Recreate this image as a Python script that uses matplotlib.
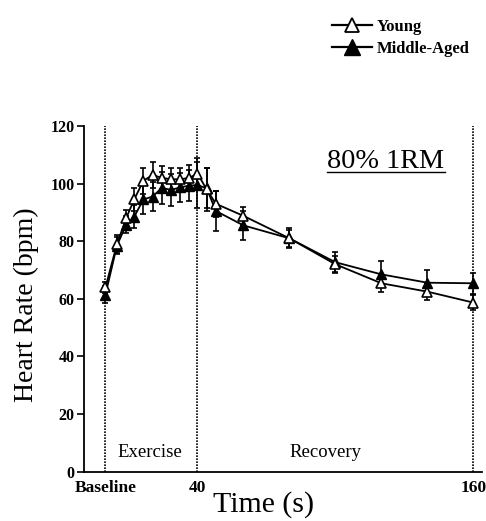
import matplotlib
matplotlib.use("Agg")
import matplotlib.pyplot as plt
from matplotlib.lines import Line2D

times = [0, 5, 9, 12.5, 16.5, 20.5, 24.5, 28.5, 32.5, 36.5, 40, 44, 48, 60, 80, 100, 120, 140, 160]
young = [64, 79, 88, 94.5, 101, 103, 102, 101.5, 101.5, 102, 103.5, 98, 93, 88.8, 81, 72, 65.4, 62.5, 58.7]
young_err = [2, 3, 3, 4, 4.5, 4.5, 4, 4, 4, 4.5, 5.5, 7.5, 4.5, 3, 3, 3, 3, 3, 2.5]
middle = [61.5, 78.5, 85.7, 88.5, 94.5, 95.5, 98.5, 97.8, 98.7, 99.3, 99.5, 98.4, 90.5, 85.5, 81, 72.7, 68.5, 65.6, 65.4]
middle_err = [3, 3, 3, 4, 5, 5, 5.5, 5.5, 5, 5.5, 8, 7, 7, 5, 3.5, 3.5, 4.5, 4.5, 3.7]
phase_lines = [0, 40, 160]
xtick_pos = [0, 40, 160]
xtick_labels = ["Baseline", "40", "160"]
yticks = [0, 20, 40, 60, 80, 100, 120]

plt.rcParams['font.family'] = ['Liberation Serif', 'DejaVu Serif']

fig = plt.figure(figsize=(4.86, 5.21), dpi=100)
ax = fig.add_axes([0.173, 0.0946, 0.819, 0.6636])

for x in phase_lines:
    ax.plot([x, x], [0, 120], color='black', linestyle=(0, (1, 0.8)), linewidth=1.2, zorder=1)

ax.errorbar(times, middle, yerr=middle_err, color='black', marker='^', markersize=7,
            markerfacecolor='black', markeredgecolor='black', linewidth=1.3,
            elinewidth=1.2, capsize=2, capthick=1.2, zorder=3)
ax.errorbar(times, young, yerr=young_err, color='black', marker='^', markersize=7,
            markerfacecolor='white', markeredgecolor='black', markeredgewidth=1.2, linewidth=1.3,
            elinewidth=1.2, capsize=2, capthick=1.2, zorder=4)

ax.set_xlim(-9.3, 163.8)
ax.set_ylim(0, 120)
ax.spines['top'].set_visible(False)
ax.spines['right'].set_visible(False)
ax.spines['left'].set_linewidth(1.3)
ax.spines['bottom'].set_linewidth(1.3)
ax.set_yticks(yticks)
ax.set_yticklabels([str(v) for v in yticks], fontsize=11.5, fontweight='bold')
ax.set_xticks(xtick_pos)
ax.set_xticklabels(xtick_labels, fontsize=12.5, fontweight='bold')
ax.tick_params(axis='x', length=0, pad=6)
ax.tick_params(axis='y', length=5, width=1.2, direction='out', pad=2)

ax.set_ylabel('Heart Rate (bpm)', fontsize=20, va='center', ha='center')
ax.yaxis.set_label_coords(-0.146, 0.484)
ax.set_xlabel('Time (s)', fontsize=21.5, va='center', ha='center')
ax.xaxis.set_label_coords(0.452, -0.095)

ax.text(19.5, 6.5, 'Exercise', fontsize=13.5, ha='center', va='center')
ax.text(95.5, 6.5, 'Recovery', fontsize=13.5, ha='center', va='center')
t = ax.text(122, 107.5, '80% 1RM', fontsize=20.3, ha='center', va='center')

fig.canvas.draw()
bb = t.get_window_extent(renderer=fig.canvas.get_renderer())
inv = fig.transFigure.inverted()
(x0, y0), (x1, y1) = inv.transform([(bb.x0, bb.y0), (bb.x1, bb.y0)])
fig.add_artist(Line2D([x0, x1], [y0 + 0.005, y0 + 0.005], transform=fig.transFigure,
                      color='black', linewidth=1.0))

h_young = Line2D([], [], color='black', marker='^', markersize=10, markerfacecolor='white',
                 markeredgecolor='black', markeredgewidth=1.3, linewidth=1.6)
h_mid = Line2D([], [], color='black', marker='^', markersize=11, markerfacecolor='black',
               markeredgecolor='black', linewidth=1.6)
fig.legend([h_young, h_mid], ['Young', 'Middle-Aged'], loc='upper left',
           bbox_to_anchor=(0.652, 0.992), frameon=False, handlelength=2.4,
           handletextpad=0.3, labelspacing=0.35, prop={'size': 12, 'weight': 'bold'})

fig.savefig('out.png', dpi=100)
